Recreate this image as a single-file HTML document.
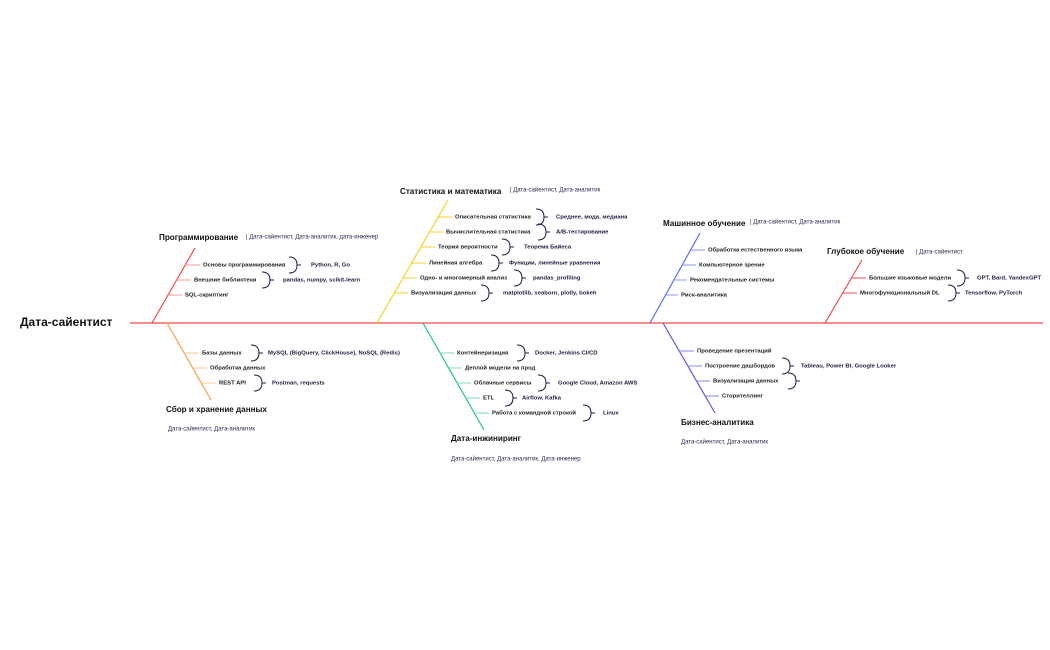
<!DOCTYPE html>
<html><head><meta charset="utf-8"><style>
html,body{margin:0;padding:0;background:#fff;}
svg{display:block}
text{font-family:"Liberation Sans",sans-serif;dominant-baseline:middle;fill:#1a1a1a}
.i{font-size:5.9px;font-weight:bold;fill:#222}
.v{font-size:5.9px;font-weight:bold;fill:#1c1c40}
.t{font-size:8.1px;font-weight:bold;fill:#111}
.r{font-size:6px;fill:#2a2a50}
.b{fill:none;stroke:#1c1c40;stroke-width:1}
</style></head><body>
<svg width="1050" height="650" viewBox="0 0 1050 650" xmlns="http://www.w3.org/2000/svg">
<defs>
<g id="br"><path class="b" d="M-3,-8 Q5,-8 5,0 Q5,8 -3,8 M5,0 H9"/></g>
</defs>
<line x1="130" y1="323" x2="1043" y2="323" stroke="#f04a4a" stroke-width="1.3"/>
<text x="20" y="323" style="font-size:12px;font-weight:bold;fill:#111">Дата-сайентист</text>

<!-- Programming -->
<g stroke="#f04a4a" stroke-width="1.2"><line x1="152" y1="323" x2="195" y2="248"/></g>
<g stroke="#f49a9a" stroke-width="1"><line x1="185" y1="265" x2="200" y2="265"/><line x1="176.6" y1="280" x2="191" y2="280"/><line x1="168" y1="295" x2="182" y2="295"/></g>
<text class="t" x="159" y="238">Программирование</text>
<text class="r" x="246" y="237">| Дата-сайентист, Дата-аналитик, дата-инженер</text>
<text class="i" x="203" y="265">Основы программирования</text>
<text class="i" x="194" y="280">Внешние библиотеки</text>
<text class="i" x="185" y="295">SQL-скриптинг</text>
<use href="#br" x="292" y="265"/><text class="v" x="311" y="265">Python, R, Go</text>
<use href="#br" x="265" y="280"/><text class="v" x="283" y="280">pandas, numpy, scikit-learn</text>

<!-- Collection -->
<line x1="167" y1="323" x2="211" y2="400" stroke="#f5a04a" stroke-width="1.2"/>
<g stroke="#f8c88e" stroke-width="1"><line x1="184" y1="353" x2="199" y2="353"/><line x1="192.7" y1="368" x2="207" y2="368"/><line x1="201.3" y1="383" x2="216" y2="383"/></g>
<text class="i" x="202" y="353">Базы данных</text>
<text class="i" x="210" y="368">Обработка данных</text>
<text class="i" x="219" y="383">REST API</text>
<use href="#br" x="254" y="353"/><text class="v" x="268" y="353">MySQL (BigQuery, ClickHouse), NoSQL (Redis)</text>
<use href="#br" x="257" y="383"/><text class="v" x="272" y="383">Postman, requests</text>
<text class="t" x="166" y="410">Сбор и хранение данных</text>
<text class="r" x="168" y="429">Дата-сайентист, Дата-аналитик</text>

<!-- Stats -->
<line x1="377" y1="323" x2="448" y2="200" stroke="#f5d22a" stroke-width="1.2"/>
<g stroke="#f5d22a" stroke-width="1"><line x1="438" y1="217" x2="452" y2="217"/><line x1="429.5" y1="232" x2="443" y2="232"/><line x1="420.9" y1="247" x2="435" y2="247"/><line x1="411.6" y1="263" x2="426" y2="263"/><line x1="403" y1="278" x2="417" y2="278"/><line x1="394.3" y1="293" x2="408" y2="293"/></g>
<text class="t" x="400" y="192">Статистика и математика</text>
<text class="r" x="510" y="190">| Дата-сайентист, Дата-аналитик</text>
<text class="i" x="455" y="217">Описательная статистика</text>
<text class="i" x="446" y="232">Вычислительная статистика</text>
<text class="i" x="438" y="247">Теория вероятности</text>
<text class="i" x="429" y="263">Линейная алгебра</text>
<text class="i" x="420" y="278">Одно- и многомерный анализ</text>
<text class="i" x="411" y="293">Визуализация данных</text>
<use href="#br" x="539" y="217"/><text class="v" x="556" y="217">Среднее, мода, медиана</text>
<use href="#br" x="541" y="232"/><text class="v" x="556" y="232">A/B-тестирование</text>
<use href="#br" x="505" y="247"/><text class="v" x="524" y="247">Теорема Байеса</text>
<use href="#br" x="494" y="263"/><text class="v" x="509" y="263">Функции, линейные уравнения</text>
<use href="#br" x="517" y="278"/><text class="v" x="533" y="278">pandas_profiling</text>
<use href="#br" x="484" y="293"/><text class="v" x="503" y="293">matplotlib, seaborn, plotly, bokeh</text>

<!-- ML -->
<line x1="650" y1="323" x2="700" y2="233" stroke="#5a6cf0" stroke-width="1.2"/>
<g stroke="#8a98f4" stroke-width="1"><line x1="690.6" y1="250" x2="705" y2="250"/><line x1="682.2" y1="265" x2="696" y2="265"/><line x1="673.9" y1="280" x2="687" y2="280"/><line x1="665.6" y1="295" x2="678" y2="295"/></g>
<text class="t" x="663" y="224">Машинное обучение</text>
<text class="r" x="750" y="222">| Дата-сайентист, Дата-аналитик</text>
<text class="i" x="708" y="250">Обработка естественного языка</text>
<text class="i" x="699" y="265">Компьютерное зрение</text>
<text class="i" x="690" y="280">Рекомендательные системы</text>
<text class="i" x="681" y="295">Риск-аналитика</text>

<!-- DL -->
<line x1="825" y1="323" x2="862" y2="260" stroke="#f04a4a" stroke-width="1.2"/>
<g stroke="#f04a4a" stroke-width="1"><line x1="851.4" y1="278" x2="866" y2="278"/><line x1="842.6" y1="293" x2="857" y2="293"/></g>
<text class="t" x="827" y="252">Глубокое обучение</text>
<text class="r" x="916" y="252">| Дата-сайентист</text>
<text class="i" x="869" y="278">Большие языковые модели</text>
<text class="i" x="860" y="293">Многофункциональный DL</text>
<use href="#br" x="960" y="278"/><text class="v" x="977" y="278">GPT, Bard, YandexGPT</text>
<use href="#br" x="951" y="293"/><text class="v" x="965" y="293">Tensorflow, PyTorch</text>

<!-- DE -->
<line x1="423" y1="323" x2="484" y2="430" stroke="#1fc48a" stroke-width="1.2"/>
<g stroke="#7fdcb8" stroke-width="1"><line x1="440" y1="353" x2="454" y2="353"/><line x1="448.7" y1="368" x2="462" y2="368"/><line x1="457.2" y1="383" x2="471" y2="383"/><line x1="465.8" y1="398" x2="480" y2="398"/><line x1="474.3" y1="413" x2="489" y2="413"/></g>
<text class="i" x="457" y="353">Контейнеризация</text>
<text class="i" x="465" y="368">Деплой модели на прод</text>
<text class="i" x="474" y="383">Облачные сервисы</text>
<text class="i" x="483" y="398">ETL</text>
<text class="i" x="492" y="413">Работа с командной строкой</text>
<use href="#br" x="520" y="353"/><text class="v" x="535" y="353">Docker, Jenkins CI/CD</text>
<use href="#br" x="541" y="383"/><text class="v" x="558" y="383">Google Cloud, Amazon AWS</text>
<use href="#br" x="508" y="398"/><text class="v" x="522" y="398">Airflow, Kafka</text>
<use href="#br" x="586" y="413"/><text class="v" x="603" y="413">Linux</text>
<text class="t" x="451" y="439">Дата-инжиниринг</text>
<text class="r" x="451" y="459">Дата-сайентист, Дата-аналитик, Дата-инженер</text>

<!-- BA -->
<line x1="663" y1="323" x2="715" y2="413" stroke="#5a5ad8" stroke-width="1.2"/>
<g stroke="#8a8ae4" stroke-width="1"><line x1="679.2" y1="351" x2="694" y2="351"/><line x1="687.8" y1="366" x2="702" y2="366"/><line x1="696.5" y1="381" x2="710" y2="381"/><line x1="705.2" y1="396" x2="719" y2="396"/></g>
<text class="i" x="697" y="351">Проведение презентаций</text>
<text class="i" x="705" y="366">Построение дашбордов</text>
<text class="i" x="713" y="381">Визуализация данных</text>
<text class="i" x="722" y="396">Сторителлинг</text>
<use href="#br" x="785" y="366"/><text class="v" x="801" y="366">Tableau, Power BI, Google Looker</text>
<use href="#br" x="791" y="381"/>
<text class="t" x="681" y="423">Бизнес-аналитика</text>
<text class="r" x="681" y="442">Дата-сайентист, Дата-аналитик</text>
</svg>
</body></html>
